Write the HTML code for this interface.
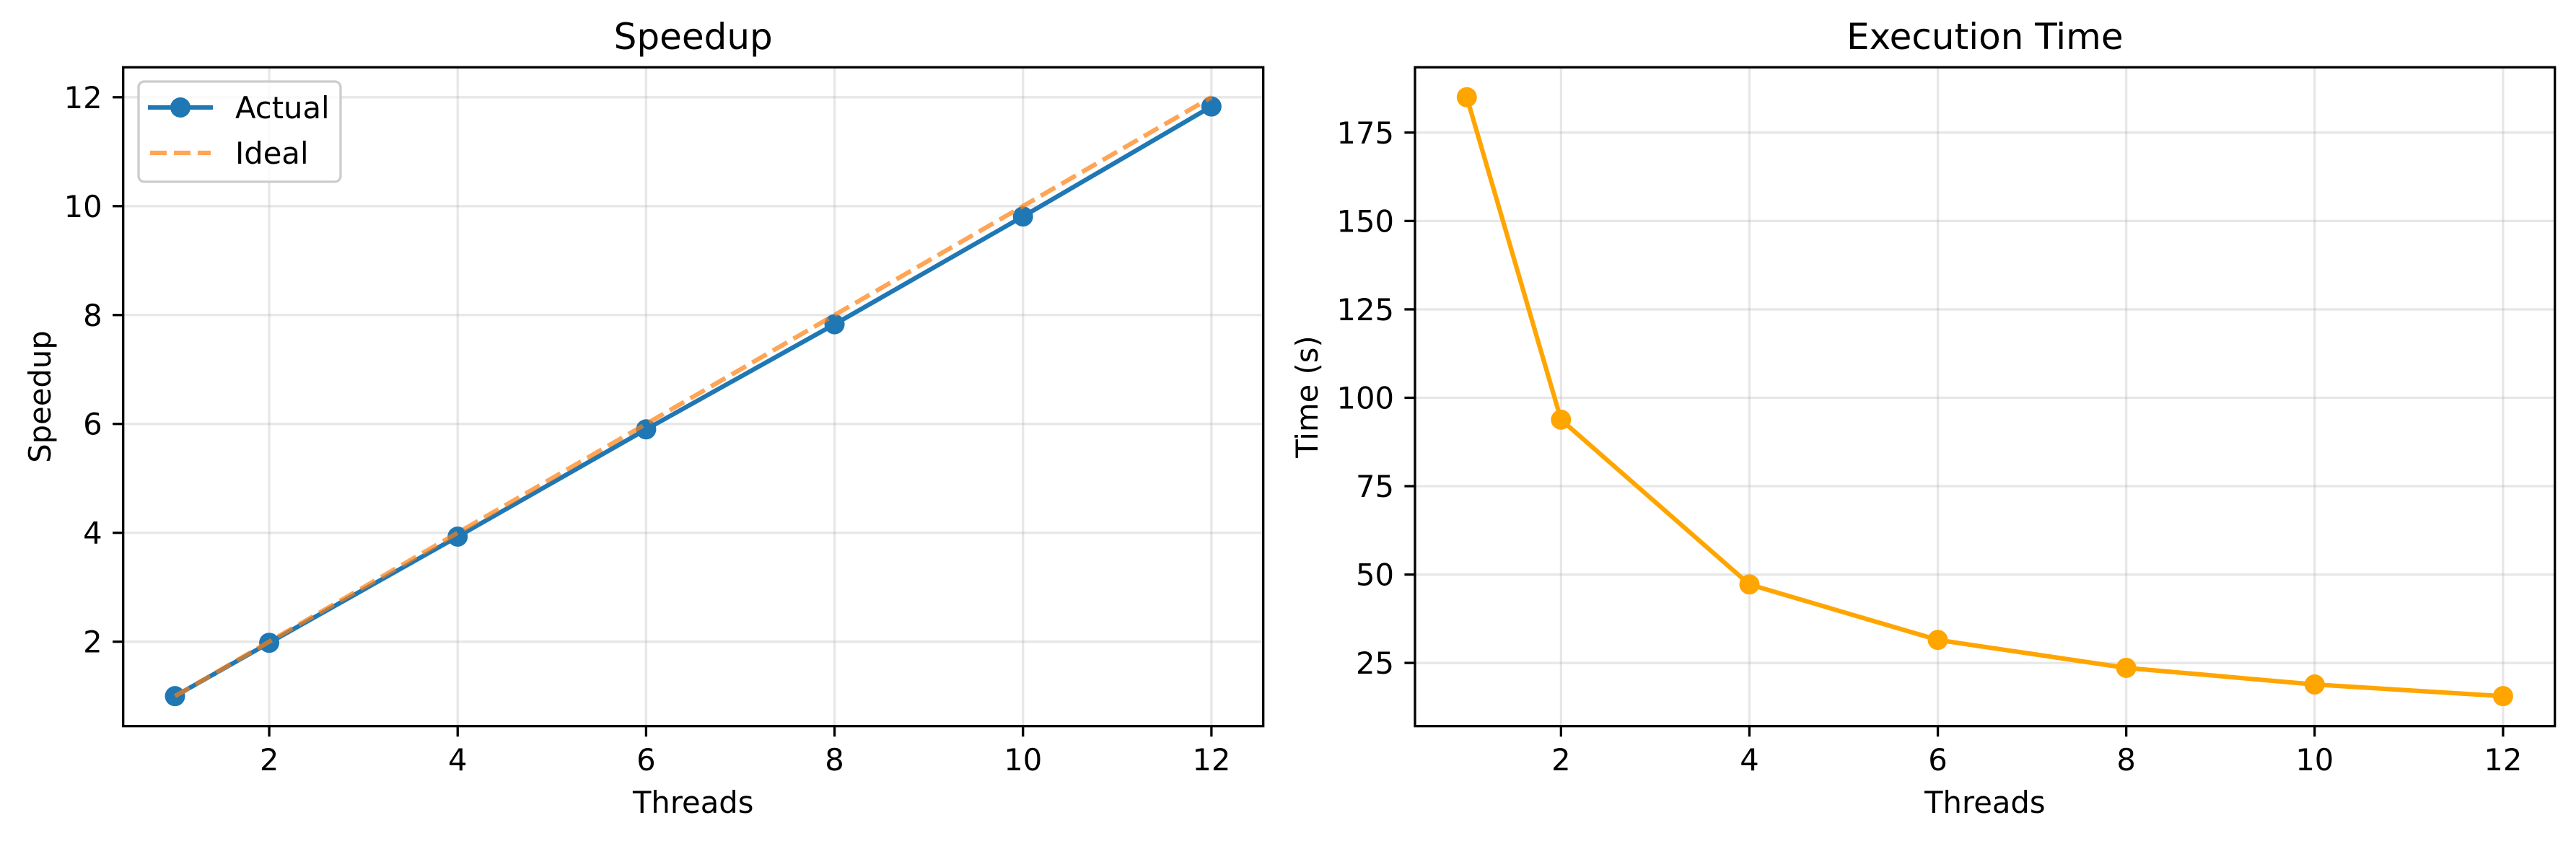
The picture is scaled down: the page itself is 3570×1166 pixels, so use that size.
<!DOCTYPE html>
<html><head><meta charset="utf-8"><style>
html,body{margin:0;padding:0;background:#fff;}
svg{display:block;font-family:"DejaVu Sans","Liberation Sans",sans-serif;}
</style></head><body>
<svg id="chart" width="3570" height="1166" viewBox="0 0 3570 1166" xmlns="http://www.w3.org/2000/svg"></svg>
<script>
const threads = [1, 2, 4, 6, 8, 10, 12];
const speedupActual = [1, 1.98, 3.93, 5.9, 7.83, 9.81, 11.83];
const speedupIdeal = [1, 2, 4, 6, 8, 10, 12];
const execTime = [185.0, 93.8, 47.2, 31.5, 23.6, 18.9, 15.6];
const xTicks = [2, 4, 6, 8, 10, 12];
const speedTicks = [2, 4, 6, 8, 10, 12];
const timeTicks = [25, 50, 75, 100, 125, 150, 175];

const NS = 'http://www.w3.org/2000/svg';
const svg = document.getElementById('chart');
function mk(tag, attrs, parent) {
  const e = document.createElementNS(NS, tag);
  for (const k in attrs) e.setAttribute(k, attrs[k]);
  (parent || svg).appendChild(e);
  return e;
}
function ext(arr) {
  const mn = Math.min(...arr), mx = Math.max(...arr), m = (mx - mn) * 0.05;
  return [mn - m, mx + m];
}

function panel(name, L, R, T, B, xdom, ydom, yTicks, title, ylabel, ylabelX) {
  const g = mk('g', {});
  
  
  const sx = v => L + (v - xdom[0]) / (xdom[1] - xdom[0]) * (R - L);
  const sy = v => B - (v - ydom[0]) / (ydom[1] - ydom[0]) * (B - T);
  xTicks.forEach(t => {
    const l = mk('line', {x1: sx(t), x2: sx(t), y1: T, y2: B, stroke: '#b0b0b0', 'stroke-opacity': 0.3, 'stroke-width': 3.3}, g);
    
    
  });
  yTicks.forEach(t => {
    const l = mk('line', {x1: L, x2: R, y1: sy(t), y2: sy(t), stroke: '#b0b0b0', 'stroke-opacity': 0.3, 'stroke-width': 3.3}, g);
    
    
  });
  xTicks.forEach(t => {
    mk('line', {x1: sx(t), x2: sx(t), y1: B, y2: B + 14.6, stroke: '#000', 'stroke-width': 3.3}, g);
    const tx = mk('text', {x: sx(t), y: 1068, 'font-size': 41.7, 'text-anchor': 'middle', fill: '#000'}, g);
    tx.textContent = t;
    
    
  });
  yTicks.forEach(t => {
    mk('line', {x1: L - 14.6, x2: L, y1: sy(t), y2: sy(t), stroke: '#000', 'stroke-width': 3.3}, g);
    const tx = mk('text', {x: L - 29, y: sy(t) + 15, 'font-size': 41.7, 'text-anchor': 'end', fill: '#000'}, g);
    tx.textContent = t;
    
    
  });
  const ti = mk('text', {x: (L + R) / 2, y: 68, 'font-size': 50, 'text-anchor': 'middle', fill: '#000'}, g);
  ti.textContent = title;
  
  
  const xl = mk('text', {x: (L + R) / 2, y: 1127, 'font-size': 41.7, 'text-anchor': 'middle', fill: '#000'}, g);
  xl.textContent = 'Threads';
  
  
  const yl = mk('text', {x: ylabelX, y: (T + B) / 2, 'font-size': 41.7, 'text-anchor': 'middle', fill: '#000', transform: `rotate(-90 ${ylabelX} ${(T + B) / 2})`}, g);
  yl.textContent = ylabel;
  
  
  return {g, sx, sy};
}

function series(p, xs, ys, color, opts) {
  const pts = xs.map((x, i) => p.sx(x) + ',' + p.sy(ys[i])).join(' ');
  const pl = mk('polyline', Object.assign({points: pts, fill: 'none', stroke: color, 'stroke-width': 6.25, 'stroke-linejoin': 'round'}, opts.line || {}), p.g);
  
  
  if (opts.markers) {
    xs.forEach((x, i) => {
      const c = mk('circle', {cx: p.sx(x), cy: p.sy(ys[i]), r: 14, fill: color}, p.g);
      
      
    });
  }
}

const xdom = ext(threads);
const p1 = panel('speedup-panel', 170.7, 1750.7, 93.3, 1006.7, xdom, ext(speedupIdeal.concat(speedupActual)), speedTicks, 'Speedup', 'Speedup', 70);
series(p1, threads, speedupActual, '#1f77b4', {name: 'actual', markers: true});
series(p1, threads, speedupIdeal, '#ff7f0e', {name: 'ideal', line: {'stroke-dasharray': '23 10', 'stroke-opacity': 0.7, 'stroke-linejoin': 'miter'}});
mk('rect', {x: 170.7, y: 93.3, width: 1580, height: 913.4, fill: 'none', stroke: '#000', 'stroke-width': 3.3}, p1.g);

const lg = mk('g', {});


mk('rect', {x: 192, y: 113, width: 280, height: 139, rx: 8, fill: '#fff', 'fill-opacity': 0.8, stroke: '#cccccc', 'stroke-width': 3.3}, lg);
const le1 = mk('g', {}, lg);


mk('line', {x1: 205, x2: 295, y1: 149, y2: 149, stroke: '#1f77b4', 'stroke-width': 6.25}, le1);
mk('circle', {cx: 250, cy: 149, r: 14, fill: '#1f77b4'}, le1);
const t1 = mk('text', {x: 326, y: 164, 'font-size': 41.7, fill: '#000'}, le1);
t1.textContent = 'Actual';
const le2 = mk('g', {}, lg);


mk('line', {x1: 208, x2: 292, y1: 212, y2: 212, stroke: '#ff7f0e', 'stroke-opacity': 0.7, 'stroke-width': 6.25, 'stroke-dasharray': '23 10'}, le2);
const t2 = mk('text', {x: 326, y: 227, 'font-size': 41.7, fill: '#000'}, le2);
t2.textContent = 'Ideal';

const p2 = panel('execution-time-panel', 1961, 3540.7, 93.3, 1006.7, xdom, ext(execTime), timeTicks, 'Execution Time', 'Time (s)', 1826);
series(p2, threads, execTime, '#ffa500', {name: 'time', markers: true});
mk('rect', {x: 1961, y: 93.3, width: 1579.7, height: 913.4, fill: 'none', stroke: '#000', 'stroke-width': 3.3}, p2.g);
</script>
</body></html>
